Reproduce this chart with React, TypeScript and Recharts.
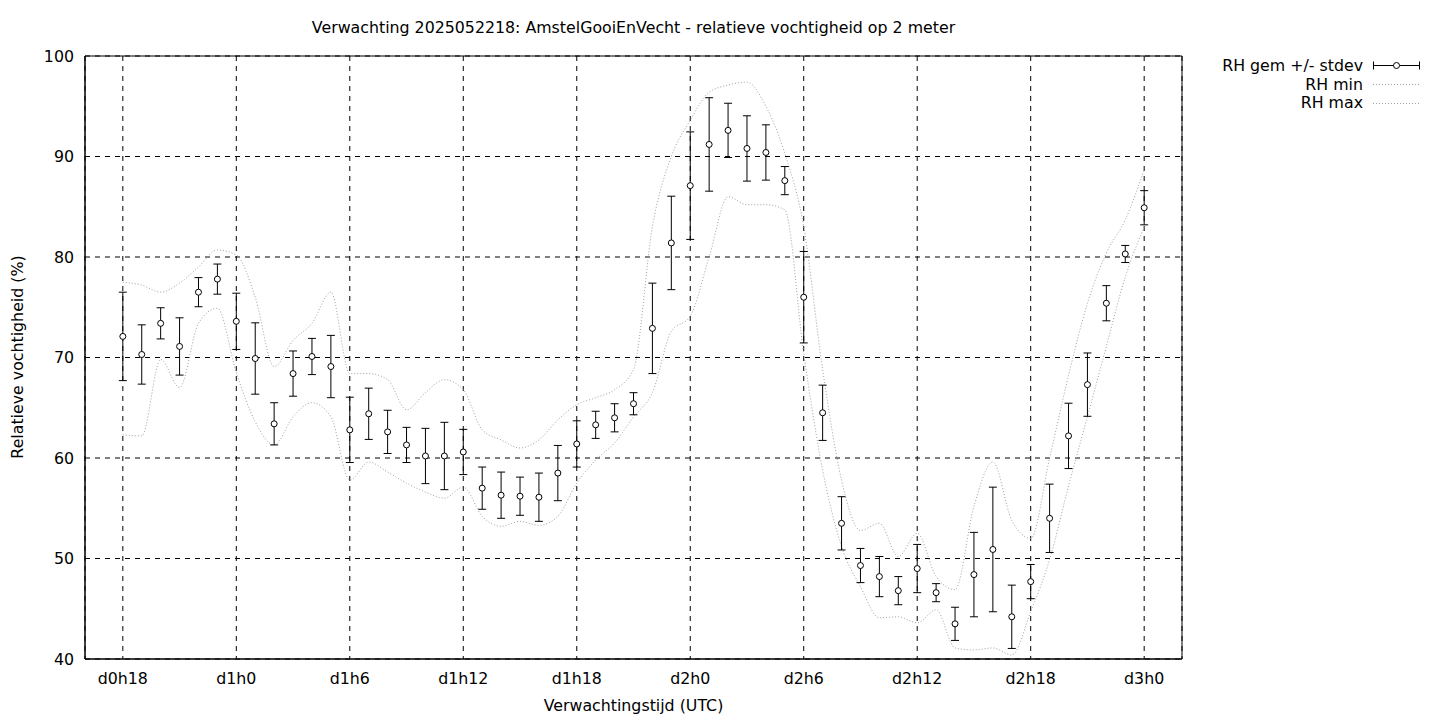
import React from "react";
import {
  ComposedChart,
  Line,
  XAxis,
  YAxis,
  CartesianGrid,
  ErrorBar,
  ReferenceArea
} from "recharts";

// forecast hour (hours since d0h0)
const hours = [
  18, 19, 20, 21, 22, 23, 24, 25, 26, 27, 28, 29, 30, 31, 32, 33, 34, 35, 36,
  37, 38, 39, 40, 41, 42, 43, 44, 45, 46, 47, 48, 49, 50, 51, 52, 53, 54, 55,
  56, 57, 58, 59, 60, 61, 62, 63, 64, 65, 66, 67, 68, 69, 70, 71, 72
];

const rhMean = [
  72.1, 70.3, 73.4, 71.1, 76.5, 77.8, 73.6, 69.9, 63.4, 68.4, 70.1, 69.1, 62.8,
  64.4, 62.6, 61.3, 60.2, 60.2, 60.6, 57.0, 56.3, 56.2, 56.1, 58.5, 61.4, 63.3,
  64.0, 65.4, 72.9, 81.4, 87.1, 91.2, 92.6, 90.8, 90.4, 87.6, 76.0, 64.5, 53.5,
  49.3, 48.2, 46.8, 49.0, 46.6, 43.5, 48.4, 50.9, 44.2, 47.7, 54.0, 62.2, 67.3,
  75.4, 80.3, 84.9
];

const rhStdev = [
  4.4, 2.95, 1.55, 2.85, 1.45, 1.5, 2.8, 3.55, 2.1, 2.25, 1.8, 3.1, 3.25, 2.55,
  2.15, 1.75, 2.75, 3.35, 2.25, 2.1, 2.3, 1.9, 2.4, 2.75, 2.3, 1.35, 1.4, 1.1,
  4.5, 4.65, 5.35, 4.65, 2.7, 3.25, 2.75, 1.4, 4.55, 2.75, 2.65, 1.7, 2.0, 1.4,
  2.4, 0.9, 1.65, 4.2, 6.2, 3.15, 1.7, 3.4, 3.25, 3.15, 1.75, 0.85, 1.7
];

const rhMin = [
  62.3, 62.2, 69.8, 67.0, 73.4, 74.9, 68.5, 63.6, 61.3, 64.1, 65.5, 64.1, 57.8,
  59.6, 58.6, 57.5, 56.6, 56.0, 57.1, 54.2, 53.2, 53.7, 53.3, 54.2, 57.5, 59.8,
  61.5, 64.1, 66.5, 72.6, 74.1, 80.0, 86.0, 85.2, 85.2, 84.7, 70.4, 58.8, 51.2,
  47.2, 44.1, 44.2, 43.6, 44.9, 41.1, 40.9, 41.1, 40.4, 44.7, 49.9, 57.2, 64.1,
  71.1, 78.0, 83.0
];

const rhMax = [
  77.5, 77.2, 76.5, 77.4, 79.0, 80.7, 80.2, 76.0, 69.1, 71.7, 73.4, 76.5, 68.4,
  68.4, 67.8, 64.8, 66.5, 67.8, 66.8, 62.8, 61.8, 61.0, 61.8, 63.8, 65.3, 66.0,
  66.8, 68.8, 83.0, 90.0, 93.6, 96.4, 97.1, 97.4, 95.0, 90.3, 83.0, 68.8, 57.8,
  52.8, 53.5, 50.2, 52.5, 48.2, 46.9, 55.2, 59.6, 53.8, 52.0, 60.0, 68.2, 75.4,
  80.4, 83.7, 88.7
];

const xTicks = [18, 24, 30, 36, 42, 48, 54, 60, 66, 72];
const xTickLabels = [
  "d0h18", "d1h0", "d1h6", "d1h12", "d1h18", "d2h0", "d2h6", "d2h12", "d2h18", "d3h0"
];
const yTicks = [40, 50, 60, 70, 80, 90, 100];

const data = hours.map((h, i) => ({
  hour: h,
  mean: rhMean[i],
  sd: rhStdev[i],
  min: rhMin[i],
  max: rhMax[i]
}));

const FONT = "'DejaVu Sans', sans-serif";
const FS = 15.8;
const DOTTED = "#a0a0a0";

export default function App() {
  return (
    <div
      style={{
        position: "absolute",
        left: 0,
        top: 0,
        width: 1440,
        height: 720,
        background: "#fff",
        fontFamily: FONT,
        fontSize: FS,
        color: "#000"
      }}
    >
      <ComposedChart
        width={1440}
        height={720}
        data={data}
        margin={{ top: 56, right: 258, bottom: 21, left: 25 }}
      >
        <CartesianGrid stroke="#000" strokeDasharray="5 5" />
        <XAxis
          dataKey="hour"
          type="number"
          domain={[16, 74]}
          ticks={xTicks}
          interval={0}
          tickFormatter={(v) => xTickLabels[xTicks.indexOf(v)]}
          tickLine={false}
          tickSize={0}
          tickMargin={14}
          height={40}
          axisLine={{ stroke: "#000" }}
          tick={{ fill: "#000", fontSize: FS, fontFamily: FONT }}
        />
        <YAxis
          type="number"
          domain={[40, 100]}
          ticks={yTicks}
          interval={0}
          tickLine={false}
          tickSize={0}
          tickMargin={11}
          width={60}
          axisLine={{ stroke: "#000" }}
          tick={{ fill: "#000", fontSize: FS, fontFamily: FONT }}
        />
        {/* plot border */}
        <ReferenceArea
          x1={16}
          x2={74}
          y1={40}
          y2={100}
          fill="none"
          fillOpacity={0}
          stroke="#000"
          strokeWidth={1}
        />
        <Line
          dataKey="min"
          type="monotone"
          stroke={DOTTED}
          strokeWidth={1}
          strokeDasharray="1 2"
          dot={false}
          activeDot={false}
          isAnimationActive={false}
        />
        <Line
          dataKey="max"
          type="monotone"
          stroke={DOTTED}
          strokeWidth={1}
          strokeDasharray="1 2"
          dot={false}
          activeDot={false}
          isAnimationActive={false}
        />
        <Line
          dataKey="mean"
          stroke="none"
          dot={{ r: 3, fill: "#fff", stroke: "#000", strokeWidth: 1 }}
          activeDot={false}
          isAnimationActive={false}
        >
          <ErrorBar dataKey="sd" width={4} stroke="#000" strokeWidth={1} direction="y" />
        </Line>
      </ComposedChart>

      {/* title */}
      <div
        style={{
          position: "absolute",
          left: 85,
          width: 1097,
          top: 18,
          lineHeight: "20px",
          textAlign: "center",
          whiteSpace: "nowrap"
        }}
      >
        Verwachting 2025052218: AmstelGooiEnVecht - relatieve vochtigheid op 2 meter
      </div>

      {/* x axis label */}
      <div
        style={{
          position: "absolute",
          left: 85,
          width: 1097,
          top: 696,
          lineHeight: "20px",
          textAlign: "center",
          whiteSpace: "nowrap"
        }}
      >
        Verwachtingstijd (UTC)
      </div>

      {/* y axis label */}
      <div
        style={{
          position: "absolute",
          left: 18,
          top: 357,
          lineHeight: "20px",
          whiteSpace: "nowrap",
          transform: "translate(-50%, -50%) rotate(-90deg)"
        }}
      >
        Relatieve vochtigheid (%)
      </div>

      {/* legend */}
      <svg
        width={240}
        height={70}
        style={{ position: "absolute", left: 1200, top: 50 }}
      >
        <g fontFamily={FONT} fontSize={FS} fill="#000" textAnchor="end">
          <text x={163} y={15} dy="0.35em">RH gem +/- stdev</text>
          <text x={163} y={34} dy="0.35em">RH min</text>
          <text x={163} y={52.7} dy="0.35em">RH max</text>
        </g>
        <g stroke="#000" strokeWidth={1}>
          <line x1={173} y1={15.5} x2={220} y2={15.5} />
          <line x1={173.5} y1={11.5} x2={173.5} y2={19.5} />
          <line x1={219.5} y1={11.5} x2={219.5} y2={19.5} />
          <circle cx={196.5} cy={15.5} r={3} fill="#fff" />
        </g>
        <g stroke={DOTTED} strokeWidth={1} strokeDasharray="1 2">
          <line x1={173} y1={34.5} x2={220} y2={34.5} />
          <line x1={173} y1={53.5} x2={220} y2={53.5} />
        </g>
      </svg>
    </div>
  );
}
